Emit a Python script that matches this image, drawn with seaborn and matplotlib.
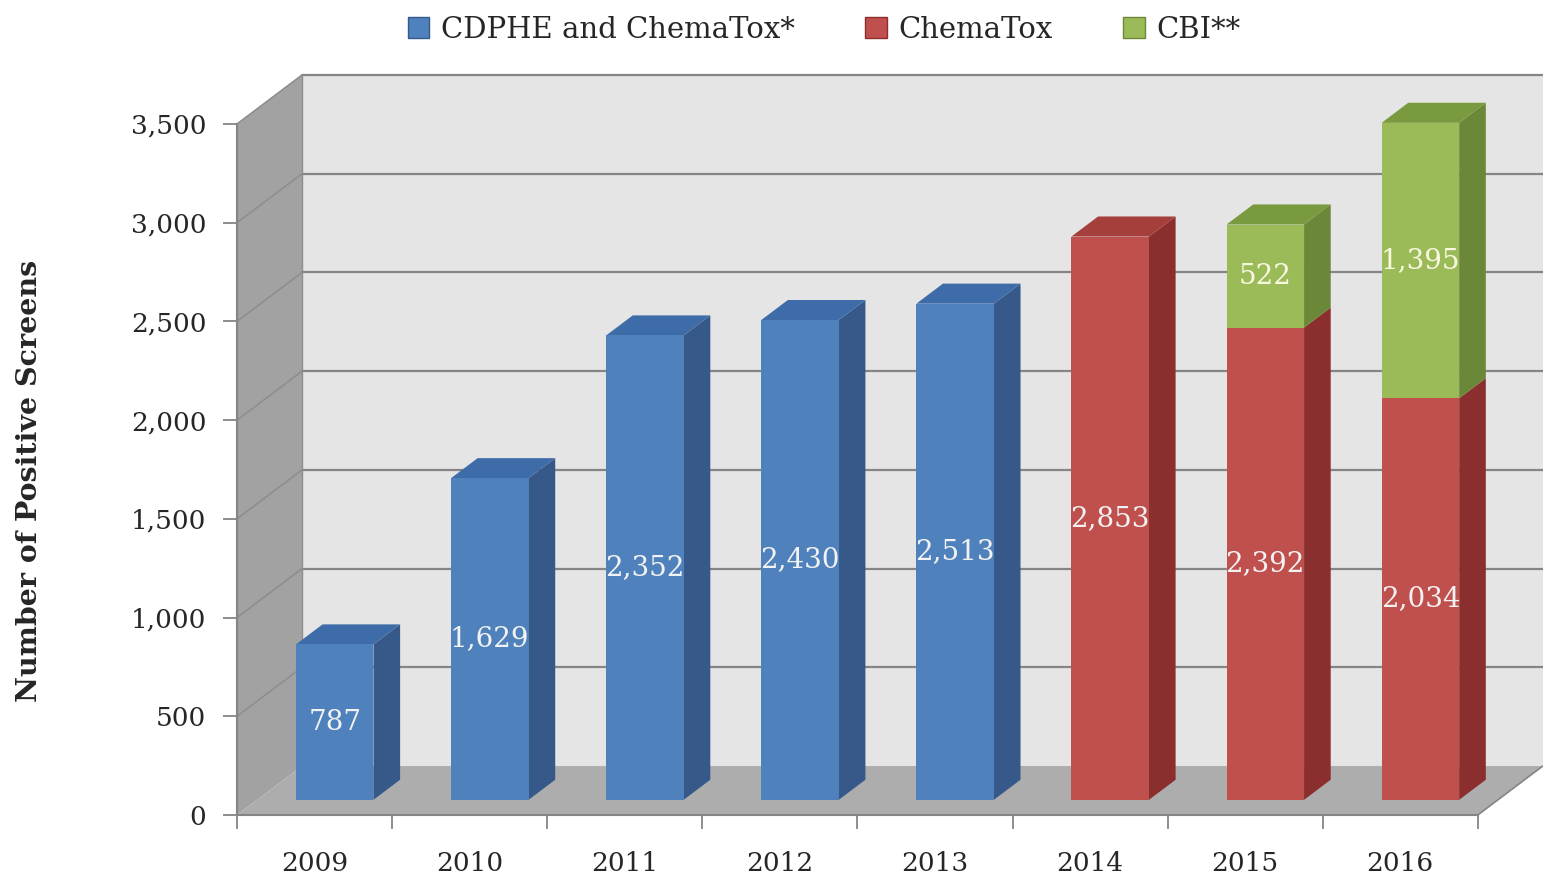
import matplotlib
matplotlib.use("Agg")
import matplotlib.pyplot as plt
from matplotlib.patches import Polygon, Patch
from matplotlib.ticker import FuncFormatter
import numpy as np
import pandas as pd
import seaborn as sns

# data
years = ["2009", "2010", "2011", "2012", "2013", "2014", "2015", "2016"]
base_values = [787, 1629, 2352, 2430, 2513, 2853, 2392, 2034]
base_source = ["CDPHE and ChemaTox*"] * 5 + ["ChemaTox"] * 3
cbi_values = [0, 0, 0, 0, 0, 0, 522, 1395]
legend_labels = ["CDPHE and ChemaTox*", "ChemaTox", "CBI**"]
y_ticks = [0, 500, 1000, 1500, 2000, 2500, 3000, 3500]

FRONT = {"CDPHE and ChemaTox*": "#4F81BD", "ChemaTox": "#C0504D", "CBI**": "#9BBB59"}
TOP = {"CDPHE and ChemaTox*": "#3E6CA8", "ChemaTox": "#A43F3C", "CBI**": "#7A9A3F"}
SIDE = {"CDPHE and ChemaTox*": "#36598A", "ChemaTox": "#8A2F2D", "CBI**": "#6B8738"}

# fake 3d: depth of the box and where the bars sit inside it
DX, DY = 0.419, 248
F0, F1 = 0.31, 0.72
BAR_W = 0.5
GRID = "#858585"

sns.set_style("white")
plt.rcParams["font.family"] = ["DejaVu Serif"]

fig = plt.figure(figsize=(15.43, 8.8), dpi=100)
ax = fig.add_axes([237 / 1543, 65 / 880, 1306 / 1543, 755 / 880])

df = pd.DataFrame({"year": years, "count": base_values, "source": base_source})
sns.barplot(data=df, x="year", y="count", hue="year",
            palette=[FRONT[s] for s in base_source], saturation=1,
            width=BAR_W, linewidth=0, errorbar=None, legend=False, ax=ax)
base_bars = list(ax.patches)

df_cbi = pd.DataFrame({"year": years, "count": cbi_values})
sns.barplot(data=df_cbi, x="year", y="count", color=FRONT["CBI**"], saturation=1,
            width=BAR_W, linewidth=0, errorbar=None, ax=ax)
cbi_bars = list(ax.patches)[len(base_bars):]

d = F1 - F0


def box_faces(x0, x1, b, t, key, top=True):
    side = [(x1, b), (x1 + d * DX, b + d * DY), (x1 + d * DX, t + d * DY), (x1, t)]
    ax.add_patch(Polygon(side, closed=True, fc=SIDE[key], ec="none", zorder=2))
    if top:
        tp = [(x0, t), (x1, t), (x1 + d * DX, t + d * DY), (x0 + d * DX, t + d * DY)]
        ax.add_patch(Polygon(tp, closed=True, fc=TOP[key], ec="none", zorder=2))


for rect, src, val, cbi in zip(base_bars, base_source, base_values, cbi_values):
    x0 = rect.get_x() + F0 * DX
    rect.set_x(x0)
    rect.set_y(F0 * DY)
    rect.set_zorder(3)
    x1 = x0 + rect.get_width()
    box_faces(x0, x1, F0 * DY, F0 * DY + val, src, top=(cbi == 0))
    ax.text(x0 + rect.get_width() / 2, F0 * DY + val / 2, f"{val:,}",
            ha="center", va="center", color="#F2F2F2", fontsize=20, zorder=5)

for rect, base, val in zip(cbi_bars, base_values, cbi_values):
    if val == 0:
        rect.set_visible(False)
        continue
    x0 = rect.get_x() + F0 * DX
    rect.set_x(x0)
    rect.set_y(F0 * DY + base)
    rect.set_zorder(3)
    x1 = x0 + rect.get_width()
    box_faces(x0, x1, F0 * DY + base, F0 * DY + base + val, "CBI**")
    ax.text(x0 + rect.get_width() / 2, F0 * DY + base + val / 2, f"{val:,}",
            ha="center", va="center", color="#F8F8E0", fontsize=20, zorder=5)

# walls and floor
left, right, top_v = -0.5, len(years) - 0.5, y_ticks[-1]
ax.add_patch(Polygon([(left + DX, DY), (right + DX, DY), (right + DX, top_v + DY),
                      (left + DX, top_v + DY)], fc="#E5E5E5", ec="none", zorder=0.1))
ax.add_patch(Polygon([(left, 0), (left + DX, DY), (left + DX, top_v + DY), (left, top_v)],
                     fc="#A2A2A2", ec="none", zorder=0.1))
ax.add_patch(Polygon([(left, 0), (right, 0), (right + DX, DY), (left + DX, DY)],
                     fc="#ADADAD", ec="none", zorder=0.1))
for v in y_ticks[1:]:
    ax.plot([left + DX, right + DX], [v + DY, v + DY], color=GRID, lw=1.6, zorder=0.2)
    ax.plot([left, left + DX], [v, v + DY], color="#8E8E8E", lw=1.2, zorder=0.2)
ax.plot([left + DX, left + DX], [DY, top_v + DY], color="#8E8E8E", lw=1.0, zorder=0.2)
ax.plot([right, right + DX], [0, DY], color=GRID, lw=1.2, zorder=0.2)

ax.set_xlim(left, left + 1306 / 155.1)
ax.set_ylim(0, 755 / 0.19743)

ax.set_xticks(np.arange(left, right + 0.01, 1), [""] * (len(years) + 1))
ax.set_xticks(np.arange(len(years)), years, minor=True)
ax.set_yticks(y_ticks)
ax.yaxis.set_major_formatter(FuncFormatter(lambda v, p: f"{v:,.0f}"))
ax.tick_params(axis="x", which="major", bottom=True, length=10, width=1.3,
               color=GRID, direction="out")
ax.tick_params(axis="x", which="minor", bottom=True, length=0, pad=26, labelsize=19)
ax.tick_params(axis="y", left=True, length=10, width=1.3, color=GRID, direction="out",
               pad=12, labelsize=19)
ax.set_xlabel("")
ax.set_ylabel("")

for s in ["top", "right"]:
    ax.spines[s].set_visible(False)
ax.spines["left"].set_bounds(0, top_v)
ax.spines["bottom"].set_bounds(left, right)
for s in ["left", "bottom"]:
    ax.spines[s].set_color(GRID)
    ax.spines[s].set_linewidth(1.5)
    ax.spines[s].set_zorder(4)

handles = [Patch(facecolor=FRONT[l], edgecolor=SIDE[l], label=l) for l in legend_labels]
fig.legend(handles=handles, loc="upper center", bbox_to_anchor=(824 / 1543, 1.012),
           ncol=3, frameon=False, fontsize=21, handlelength=0.75, handleheight=0.75,
           handletextpad=0.4, columnspacing=2.4)

fig.text(30 / 1543, 0.453, "Number of Positive Screens", rotation=90,
         fontweight="bold", fontsize=20.5, ha="center", va="center")

fig.savefig("out.png", dpi=100)
